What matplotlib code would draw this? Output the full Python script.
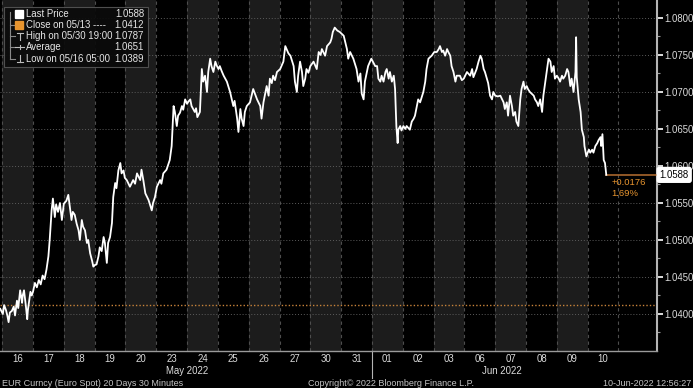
import matplotlib
matplotlib.use("Agg")
import matplotlib.pyplot as plt
import matplotlib.transforms as mtransforms
from matplotlib.patches import Rectangle
from matplotlib.lines import Line2D

# EUR spot, 30 minute bars (hours since start of 16 May session)
hours = [
    -1.5, 0.5, 1.5, 3.0, 4.0, 5.0, 6.0, 7.5, 9.0, 10.0, 11.5, 12.5, 14.0, 15.5, 16.0, 17.0, 18.5, 19.5, 20.0, 21.0, 22.0, 23.0,  # 16
    24.0, 25.5, 27.0, 28.5, 30.0, 31.5, 33.0, 34.5, 36.0, 37.0, 38.5, 39.5, 41.0, 42.0, 43.5, 45.0, 46.5,  # 17
    48.0, 50.0, 51.5, 53.0, 54.0, 55.0, 56.5, 58.0, 59.5, 60.5, 62.0, 63.0, 64.5, 66.0, 67.0, 68.5, 70.0, 71.0,  # 18
    72.0, 73.5, 75.0, 76.0, 77.5, 79.0, 80.0, 81.5, 82.5, 84.0, 85.5, 86.5, 88.0, 89.0, 90.5, 92.0, 93.0, 94.5, 95.5,  # 19
    97.0, 99.5, 102.0, 103.5, 105.0, 107.5, 108.5, 110.0, 111.5, 114.0, 116.5, 117.5, 119.0,  # 20
    120.5, 123.0, 124.0, 125.5, 128.0, 130.5, 132.0, 133.5, 134.5, 136.0, 137.0, 138.5, 140.0, 141.0, 142.5, 144.0,  # 23
    145.0, 146.5, 147.5, 150.0, 151.0, 152.0, 154.0, 155.5, 156.5, 158.0, 159.5, 160.5, 162.0, 163.0, 164.5, 166.0, 167.0, 168.5,  # 24
    169.5, 171.0, 172.5, 175.0, 177.5, 180.0, 181.0, 183.0, 184.0, 185.5, 186.5, 188.0, 189.0, 190.5, 193.0,  # 25
    195.5, 198.5, 201.0, 202.0, 203.5, 206.0, 207.5, 208.5, 210.0, 211.0, 212.5, 214.0, 216.5, 219.0,  # 26
    220.5, 221.5, 223.0, 224.5, 227.0, 228.0, 229.5, 230.5, 232.0, 233.5, 234.5, 236.0, 237.0, 238.5, 240.0,  # 27
    242.5, 245.0, 246.5, 248.0, 249.0, 251.5, 253.0, 255.5, 256.5, 257.5, 259.0, 261.0, 263.0, 266.0,  # 30
    268.5, 269.5, 271.0, 273.5, 276.0, 277.5, 279.0, 280.0, 281.5, 282.5, 284.0, 285.0, 286.5, 287.5,  # 31
    290.5, 292.0, 293.0, 294.5, 295.5, 297.0, 298.5, 299.5, 301.0, 302.0, 303.5, 305.0, 306.0, 307.0, 308.0, 308.5, 310.0, 311.0, 312.5,  # 01
    314.0, 315.0, 317.5, 319.0, 320.5, 321.5, 323.0, 324.0, 325.5, 328.0, 329.5, 330.5, 332.0, 334.5, 336.5,  # 02
    338.5, 340.0, 341.0, 342.5, 343.5, 345.0, 346.5, 347.5, 349.0, 350.0, 351.5, 353.0, 354.0, 356.5, 358.0, 359.5,  # 03
    362.0, 364.5, 366.0, 367.0, 369.5, 371.0, 372.5, 373.5, 375.0, 376.0, 378.5, 380.0, 381.5, 382.5, 384.0,  # 06
    386.0, 388.0, 390.5, 391.5, 393.0, 394.0, 395.5, 397.0, 398.0, 399.5, 400.5, 402.0, 403.5, 404.5, 406.0, 407.0, 408.5, 409.5,  # 07
    411.0, 414.0, 415.0, 416.5, 417.5, 419.0, 420.5, 421.5, 423.0, 424.0, 425.5, 427.0, 428.0, 429.5, 430.5, 432.0, 433.5,  # 08
    434.5, 436.0, 437.0, 438.5, 440.0, 441.0, 442.5, 443.5, 445.0, 446.5, 447.0, 447.5, 449.0, 450.5, 451.5, 453.0, 453.5, 455.0, 456.0,  # 09
    457.0, 458.0, 459.5, 460.5, 462.0, 463.5, 464.5, 466.0, 466.5, 467.5, 468.5, 469.5, 470.5,  # 10
]
prices = [
    1.0407, 1.0400, 1.0412, 1.0405, 1.0398, 1.0389, 1.0402, 1.0404, 1.0410, 1.0398, 1.0418, 1.0408, 1.0432, 1.0415, 1.0425, 1.0432, 1.0410, 1.0393, 1.0405, 1.0418, 1.0430, 1.0425,
    1.0430, 1.0442, 1.0436, 1.0446, 1.0440, 1.0452, 1.0447, 1.0460, 1.0478, 1.0500, 1.0540, 1.0556, 1.0531, 1.0548, 1.0538, 1.0550, 1.0527,
    1.0549, 1.0553, 1.0561, 1.0540, 1.0527, 1.0538, 1.0534, 1.0522, 1.0513, 1.0500, 1.0527, 1.0518, 1.0513, 1.0496, 1.0500, 1.0482, 1.0472, 1.0464,
    1.0466, 1.0467, 1.0478, 1.0490, 1.0485, 1.0504, 1.0496, 1.0469, 1.0496, 1.0504, 1.0523, 1.0558, 1.0577, 1.0570, 1.0594, 1.0604, 1.0590, 1.0594, 1.0584,
    1.0581, 1.0572, 1.0581, 1.0576, 1.0590, 1.0581, 1.0595, 1.0580, 1.0563, 1.0554, 1.0540, 1.0550, 1.0558,
    1.0572, 1.0581, 1.0576, 1.0590, 1.0595, 1.0608, 1.0627, 1.0681, 1.0673, 1.0654, 1.0668, 1.0672, 1.0681, 1.0676, 1.0690, 1.0684,
    1.0687, 1.0690, 1.0681, 1.0673, 1.0678, 1.0666, 1.0673, 1.0731, 1.0714, 1.0722, 1.0700, 1.0727, 1.0745, 1.0735, 1.0727, 1.0741, 1.0736, 1.0731,
    1.0735, 1.0728, 1.0722, 1.0714, 1.0700, 1.0681, 1.0688, 1.0664, 1.0646, 1.0677, 1.0664, 1.0654, 1.0673, 1.0681, 1.0686,
    1.0704, 1.0690, 1.0681, 1.0664, 1.0686, 1.0708, 1.0695, 1.0718, 1.0712, 1.0722, 1.0716, 1.0727, 1.0731, 1.0741,
    1.0762, 1.0758, 1.0752, 1.0749, 1.0735, 1.0714, 1.0700, 1.0722, 1.0741, 1.0727, 1.0708, 1.0718, 1.0731, 1.0726, 1.0735,
    1.0741, 1.0731, 1.0754, 1.0750, 1.0758, 1.0749, 1.0762, 1.0767, 1.0772, 1.0781, 1.0787, 1.0783, 1.0781, 1.0776,
    1.0758, 1.0745, 1.0754, 1.0745, 1.0731, 1.0714, 1.0725, 1.0698, 1.0690, 1.0714, 1.0727, 1.0735, 1.0741, 1.0745,
    1.0735, 1.0735, 1.0718, 1.0714, 1.0722, 1.0714, 1.0727, 1.0731, 1.0718, 1.0727, 1.0714, 1.0722, 1.0704, 1.0654, 1.0631, 1.0649, 1.0654, 1.0648, 1.0654,
    1.0650, 1.0654, 1.0649, 1.0660, 1.0664, 1.0668, 1.0681, 1.0690, 1.0686, 1.0700, 1.0714, 1.0731, 1.0745, 1.0749, 1.0754,
    1.0754, 1.0758, 1.0762, 1.0754, 1.0756, 1.0749, 1.0758, 1.0754, 1.0749, 1.0735, 1.0727, 1.0714, 1.0722, 1.0722, 1.0716, 1.0718,
    1.0727, 1.0722, 1.0731, 1.0720, 1.0731, 1.0741, 1.0749, 1.0745, 1.0731, 1.0727, 1.0712, 1.0695, 1.0690, 1.0700, 1.0695,
    1.0694, 1.0695, 1.0686, 1.0677, 1.0686, 1.0668, 1.0695, 1.0681, 1.0668, 1.0673, 1.0660, 1.0654, 1.0690, 1.0704, 1.0714, 1.0704, 1.0708, 1.0704,
    1.0700, 1.0695, 1.0690, 1.0686, 1.0681, 1.0690, 1.0673, 1.0695, 1.0714, 1.0727, 1.0745, 1.0741, 1.0727, 1.0735, 1.0718, 1.0722, 1.0718,
    1.0714, 1.0722, 1.0718, 1.0722, 1.0731, 1.0727, 1.0708, 1.0718, 1.0700, 1.0727, 1.0774, 1.0720, 1.0690, 1.0673, 1.0649, 1.0639, 1.0627, 1.0613, 1.0618,
    1.0622, 1.0618, 1.0622, 1.0618, 1.0627, 1.0631, 1.0635, 1.0639, 1.0627, 1.0643, 1.0608, 1.0604, 1.0588,
]
assert len(hours) == len(prices)

day_labels = ["16", "17", "18", "19", "20", "23", "24", "25", "26", "27",
              "30", "31", "01", "02", "03", "06", "07", "08", "09", "10"]
month_labels = ["May 2022", "Jun 2022"]
month_start = [0, 12]   # index into day_labels

last_price = 1.0588
prev_close = 1.0412
legend_names = ["Last Price", "Close on 05/13 ----", "High on 05/30 19:00", "Average", "Low on 05/16 05:00"]
legend_values = [1.0588, 1.0412, 1.0787, 1.0651, 1.0389]

W, H = 693, 388
FONT = "Liberation Sans"
orange = "#e8952f"
txt = "#dcdcdc"

fig = plt.figure(figsize=(W / 100, H / 100), dpi=100, facecolor="black")
ax = fig.add_axes([0, 37 / H, 657 / W, 351 / H])
ax.set_facecolor("black")
x_lo, x_hi = -1.7, 510
ax.set_xlim(x_lo, x_hi)
ax.set_ylim(1.0350, 1.08243)

# day bands + dashed separators
for k in range(len(day_labels)):
    if k % 2 == 0:
        ax.axvspan(max(24 * k, x_lo), 24 * (k + 1), color="#1c1c1c", lw=0, zorder=0)
for k in range(len(day_labels) + 1):
    ax.axvline(24 * k, color="#4d4d4d", lw=0.8, ls=(0, (3, 3)), zorder=1)

yt = [1.040 + 0.005 * i for i in range(9)]
for v in yt:
    ax.axhline(v, color="#5c5c5c", lw=0.7, ls=(0, (1, 2)), zorder=1)

ax.axhline(prev_close, color="#c8833a", lw=1.0, ls=(0, (1, 1.5)), zorder=2)

ax.plot(hours, prices, color="white", lw=1.3, zorder=5)
ax.plot([hours[-1], x_hi], [last_price, last_price], color="#a9672d", lw=1.2, zorder=4)

chg = last_price - prev_close
ax.annotate(f"+{chg:.4f}\n{chg / prev_close * 100:.2f}%", xy=(hours[-1], last_price),
            xytext=(5, -3), textcoords="offset pixels", ha="left", va="top",
            color=orange, fontsize=6.8, family=FONT, linespacing=1.25, zorder=6)

# right axis
ax.yaxis.tick_right()
ax.set_yticks(yt)
ax.set_yticklabels([f"{v:.4f}" for v in yt])
ax.set_yticks([1.0375 + 0.005 * i for i in range(9)], minor=True)
ax.tick_params(axis="y", which="major", colors=txt, length=4, width=1.4,
               pad=1, labelsize=6.9)
ax.tick_params(axis="y", which="minor", colors="#9a9a9a", length=2, width=0.8)
for lab in ax.get_yticklabels():
    lab.set_family(FONT)

ax.text(1.004, last_price, f"{last_price:.4f}",
        transform=mtransforms.blended_transform_factory(ax.transAxes, ax.transData),
        ha="left", va="center", color="black", fontsize=6.9, family=FONT, zorder=10,
        bbox=dict(boxstyle="round,pad=0.25,rounding_size=0.2", fc="white", ec="white"),
        clip_on=False)

# bottom axis
ax.set_xticks([24 * k + 12 for k in range(len(day_labels))])
ax.set_xticklabels(day_labels)
ax.tick_params(axis="x", length=0, pad=2, colors=txt, labelsize=6.9)
for lab in ax.get_xticklabels():
    lab.set_family(FONT)

for s in ["left", "top"]:
    ax.spines[s].set_visible(False)
ax.spines["right"].set_color("#b4b4b4")
ax.spines["right"].set_linewidth(1.5)
ax.spines["bottom"].set_color("#9a9a9a")
ax.spines["bottom"].set_linewidth(1.0)

bt = mtransforms.blended_transform_factory(ax.transData, ax.transAxes)
month_end = month_start[1:] + [len(day_labels) + 0.4]
for name, a, b in zip(month_labels, month_start, month_end):
    ax.text(12 * (a + b), -20 / 351, name, transform=bt, ha="center", va="center",
            color=txt, fontsize=6.9, family=FONT, clip_on=False)
ax.plot([24 * month_start[1]] * 2, [0, -27 / 351], transform=bt, color="#b4b4b4",
        lw=0.8, clip_on=False)

# footer
fy = 1 - 383 / H
fig.text(2 / W, fy, "EUR Curncy (Euro Spot) 20 Days 30 Minutes", ha="left", va="center",
         color="#c4c4c4", fontsize=6.5, family=FONT)
fig.text(391 / W, fy, "Copyright\u00a9 2022 Bloomberg Finance L.P.", ha="center", va="center",
         color="#c4c4c4", fontsize=6.5, family=FONT)
fig.text(691 / W, fy, "10-Jun-2022 12:56:27", ha="right", va="center",
         color="#c4c4c4", fontsize=6.5, family=FONT)

# legend box (pixel coordinates from the top-left corner)
def px(x, y):
    return x / W, 1 - y / H

fig.add_artist(Rectangle(px(4, 67), 144 / W, 60 / H, transform=fig.transFigure,
                         fc="#0b0b0b", ec="#555555", lw=0.8, alpha=0.92, zorder=20))
rows = [14, 25, 36, 47, 59]
for name, val, ry in zip(legend_names, legend_values, rows):
    fig.text(*px(26, ry), name, ha="left", va="center", color="#e6e6e6",
             fontsize=6.9, family=FONT, zorder=21)
    fig.text(*px(144, ry), f"{val:.4f}", ha="right", va="center", color="#e6e6e6",
             fontsize=6.9, family=FONT, zorder=21)

def seg(x0, y0, x1, y1, c="#8a8a8a", lw=0.8):
    (a, b), (c2, d) = px(x0, y0), px(x1, y1)
    fig.add_artist(Line2D([a, c2], [b, d], transform=fig.transFigure, color=c, lw=lw, zorder=21))

seg(10, 12, 10, rows[-1])
for ry in rows[1:]:
    seg(10, ry, 15, ry)
fig.add_artist(Rectangle(px(15, rows[0] + 4), 8 / W, 8 / H, transform=fig.transFigure,
                         fc="white", ec="white", zorder=21))
fig.add_artist(Rectangle(px(15, rows[1] + 4), 8 / W, 8 / H, transform=fig.transFigure,
                         fc=orange, ec=orange, zorder=21))
seg(17, rows[2] - 3, 23, rows[2] - 3, "#bdbdbd")
seg(20, rows[2] - 3, 20, rows[2] + 4, "#bdbdbd")
seg(15, rows[3], 24, rows[3], "#bdbdbd")
seg(20, rows[3] - 2, 20, rows[3] + 2, "#bdbdbd")
seg(17, rows[4] + 3, 23, rows[4] + 3, "#bdbdbd")
seg(20, rows[4] - 4, 20, rows[4] + 3, "#bdbdbd")

fig.savefig("out.png", dpi=100, facecolor="black")
